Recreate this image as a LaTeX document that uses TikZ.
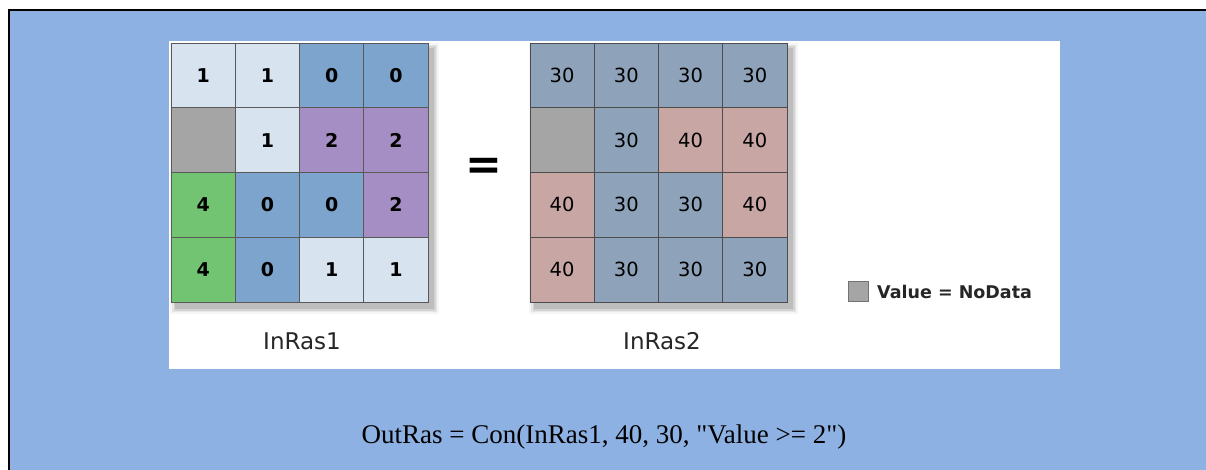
\documentclass[tikz,border=0pt]{standalone}
\usepackage{fontspec}
\setmainfont{Liberation Serif}
\newfontfamily\tnr{Liberation Serif}[Ligatures=TeXOff]
\newfontfamily\dvs{DejaVu Sans}
\newfontfamily\dvsb{DejaVu Sans Bold}
\definecolor{bgblue}{HTML}{8DB1E2}
\definecolor{clight}{HTML}{D8E3F0}
\definecolor{cblue}{HTML}{7DA4CC}
\definecolor{cpurple}{HTML}{A48EC3}
\definecolor{cgreen}{HTML}{72C472}
\definecolor{cgray}{HTML}{A5A5A5}
\definecolor{rblue}{HTML}{8EA2BA}
\definecolor{rpink}{HTML}{C8A6A3}
\begin{document}
\begin{tikzpicture}[x=1pt,y=-1pt,
  lcell/.style={draw=black!65,line width=0.9pt,minimum width=64.25pt,minimum height=64.75pt,inner sep=0pt,outer sep=0pt,
    font=\dvsb\fontsize{19}{19}\selectfont},
  rcell/.style={draw=black!70,line width=0.9pt,minimum width=64.25pt,minimum height=64.75pt,inner sep=0pt,outer sep=0pt,
    font=\dvs\fontsize{19.5}{19.5}\selectfont},
  lbl/.style={font=\dvs\fontsize{23}{23}\selectfont,text=black!85,inner sep=0pt},
]
\useasboundingbox (0,0) rectangle (1206,470);
\fill[white] (0,0) rectangle (1206,470);
\fill[bgblue] (9,10) rectangle (1206,470);
\draw[black,line width=1.6pt] (1206,10) -- (9,10) -- (9,470);
\fill[white] (169,41) rectangle (1060,369);
% shadows
\foreach \gx in {171,530}{
  \foreach \e/\o in {6/0.04,4/0.06,2.5/0.08,1/0.10}{
    \fill[black,opacity=\o] (\gx+5-\e,43+6-\e) rectangle (\gx+257+5+\e,302+6+\e);
  }
}
% left grid
\def\cw{64.25}\def\ch{64.75}
\foreach \v/\c [count=\i from 0] in {1/clight,1/clight,0/cblue,0/cblue,
  {}/cgray,1/clight,2/cpurple,2/cpurple,
  4/cgreen,0/cblue,0/cblue,2/cpurple,
  4/cgreen,0/cblue,1/clight,1/clight}{
  \pgfmathtruncatemacro{\col}{mod(\i,4)}
  \pgfmathtruncatemacro{\row}{div(\i,4)}
  \node[lcell,fill=\c] (L\i) at ({171+\cw/2+\col*\cw},{43+\ch/2+\row*\ch}) {\v};
}
\foreach \v/\c [count=\i from 0] in {30/rblue,30/rblue,30/rblue,30/rblue,
  {}/cgray,30/rblue,40/rpink,40/rpink,
  40/rpink,30/rblue,30/rblue,40/rpink,
  40/rpink,30/rblue,30/rblue,30/rblue}{
  \pgfmathtruncatemacro{\col}{mod(\i,4)}
  \pgfmathtruncatemacro{\row}{div(\i,4)}
  \node[rcell,fill=\c] (R\i) at ({530+\cw/2+\col*\cw},{43+\ch/2+\row*\ch}) {\v};
}
\node[font=\dvsb\fontsize{44}{44}\selectfont,inner sep=0pt] (eq) at (484,169) {=};
\node[lbl] (n1) at (302,341) {InRas1};
\node[lbl] (n2) at (662,341) {InRas2};
\node[draw=black!55,fill=cgray,line width=1pt,minimum size=20pt,inner sep=0pt] (leg) at (858.5,291.5) {};
\node[anchor=west,font=\dvsb\fontsize{17.5}{17.5}\selectfont,text=black!85,inner sep=0pt] (legt) at (877,292) {Value = NoData};
\node[font=\tnr\fontsize{27}{27}\selectfont,inner sep=0pt] (f) at (604,437) {OutRas = Con(InRas1, 40, 30, "Value >= 2")};
\end{tikzpicture}
\end{document}
